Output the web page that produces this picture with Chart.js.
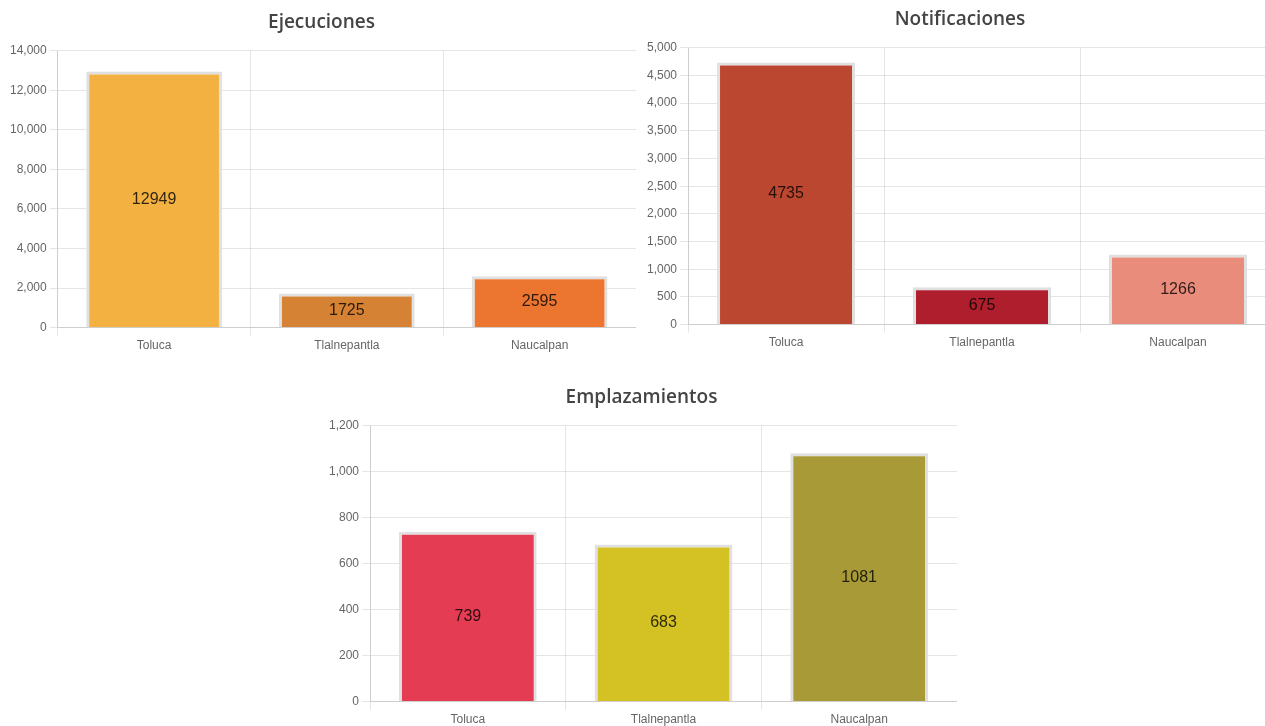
<!DOCTYPE html>
<html lang="es">
<head>
<meta charset="utf-8">
<title>Ejecuciones, Notificaciones y Emplazamientos</title>
<script src="https://cdn.jsdelivr.net/npm/chart.js@4.4.1/dist/chart.umd.min.js"></script>
<style>
    html, body { margin: 0; padding: 0; background: #fff; overflow: hidden; }
    body { width: 1265px; height: 726px; position: relative; }
    .chart-box { position: absolute; }
</style>
</head>
<body>
<div class="chart-box" style="left:7px; top:0px; width:629px; height:356px;"><canvas id="ejecucionesChart"></canvas></div>
<div class="chart-box" style="left:644px; top:-3px; width:632px; height:356px;"><canvas id="notificacionesChart"></canvas></div>
<div class="chart-box" style="left:326px; top:375px; width:631px; height:355px;"><canvas id="emplazamientosChart"></canvas></div>

<script>
// ===== Data =====
const municipios = ['Toluca', 'Tlalnepantla', 'Naucalpan'];

const ejecuciones = [12949, 1725, 2595];
const notificaciones = [4735, 675, 1266];
const emplazamientos = [739, 683, 1081];

const ejecucionesColors = ['#F2B141', '#D58234', '#EC762F'];
const notificacionesColors = ['#BC4730', '#AE1E2C', '#EA8C7B'];
const emplazamientosColors = ['#E33C53', '#D4C124', '#A89B37'];

let charts = {};

// Chart.js default configuration
Chart.defaults.color = '#666';
Chart.defaults.font.family = "'Liberation Sans', Arial, sans-serif";
Chart.defaults.font.size = 12;

// Value label in the middle of each bar
const valueLabels = {
    id: 'valueLabels',
    afterDatasetsDraw(chart) {
        const ctx = chart.ctx;
        const dataset = chart.data.datasets[0];
        ctx.save();
        ctx.font = "16px 'Liberation Sans', Arial, sans-serif";
        ctx.fillStyle = 'rgba(0, 0, 0, 0.8)';
        ctx.textAlign = 'center';
        ctx.textBaseline = 'middle';
        chart.getDatasetMeta(0).data.forEach((bar, i) => {
            const { x, y, base } = bar.getProps(['x', 'y', 'base'], true);
            ctx.fillText(String(dataset.data[i]), x, (y + base) / 2);
        });
        ctx.restore();
    }
};

// Create a bar chart
function createBarChart(key, canvasId, title, values, colors, max, step) {
    const ctx = document.getElementById(canvasId).getContext('2d');
    if (charts[key]) charts[key].destroy();

    charts[key] = new Chart(ctx, {
        type: 'bar',
        data: {
            labels: municipios,
            datasets: [{
                label: title,
                data: values,
                backgroundColor: colors,
                borderColor: '#e0e0e0',
                borderWidth: 3,
                categoryPercentage: 0.8,
                barPercentage: 0.88
            }]
        },
        options: {
            responsive: true,
            maintainAspectRatio: false,
            animation: false,
            plugins: {
                legend: { display: false },
                tooltip: { enabled: false },
                title: {
                    display: true,
                    text: title,
                    color: '#444',
                    font: { family: "'Open Sans', sans-serif", size: 19, weight: '600' },
                    padding: { top: 11, bottom: 17 }
                }
            },
            scales: {
                y: {
                    beginAtZero: true,
                    max: max,
                    ticks: { stepSize: step },
                    grid: { color: 'rgba(0, 0, 0, 0.1)' }
                },
                x: {
                    grid: { color: 'rgba(0, 0, 0, 0.1)' }
                }
            }
        },
        plugins: [valueLabels]
    });
}

createBarChart('ejecuciones', 'ejecucionesChart', 'Ejecuciones', ejecuciones, ejecucionesColors, 14000, 2000);
createBarChart('notificaciones', 'notificacionesChart', 'Notificaciones', notificaciones, notificacionesColors, 5000, 500);
createBarChart('emplazamientos', 'emplazamientosChart', 'Emplazamientos', emplazamientos, emplazamientosColors, 1200, 200);
</script>
</body>
</html>
